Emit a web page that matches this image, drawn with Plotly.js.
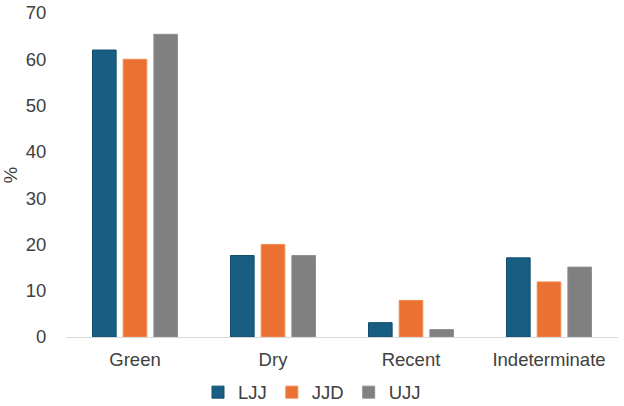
<!DOCTYPE html>
<html>
<head>
<meta charset="utf-8">
<script src="https://cdn.plot.ly/plotly-3.0.1.min.js"></script>
<style>html,body{margin:0;padding:0;background:#fff;}#chart{width:624px;height:406px;}</style>
</head>
<body>
<div id="chart"></div>
<script>
const categories = ["Green", "Dry", "Recent", "Indeterminate"];
const seriesNames = ["LJJ", "JJD", "UJJ"];
const LJJ = [62.0, 17.6, 3.1, 17.1];
const JJD = [60.0, 20.0, 7.9, 11.9];
const UJJ = [65.4, 17.6, 1.6, 15.1];
const yTicks = [0, 10, 20, 30, 40, 50, 60, 70];

const colors = ["#175E82", "#EB7132", "#808080"];
const edges = ["#124d6b", "#f08a52", "#8f8f8f"];
const values = [LJJ, JJD, UJJ];

const traces = values.map((v, i) => ({
  type: "bar",
  name: seriesNames[i],
  x: categories,
  y: v,
  marker: {color: colors[i], line: {color: edges[i], width: 1}},
  hoverinfo: "x+y+name"
}));

const font = {family: "'Liberation Sans', Arial, sans-serif", size: 18.5, color: "#404040"};

const layout = {
  width: 624,
  height: 406,
  margin: {l: 66, r: 6, t: 13, b: 69, autoexpand: false},
  paper_bgcolor: "#fff",
  plot_bgcolor: "#fff",
  font: font,
  barmode: "group",
  bargap: 0.333,
  bargroupgap: 0.23,
  showlegend: true,
  legend: {
    orientation: "h",
    x: 0.5, xanchor: "center", xref: "container",
    y: 0.033, yanchor: "middle", yref: "container",
    font: font,
    itemwidth: 30,
    tracegroupgap: 0,
    traceorder: "normal"
  },
  xaxis: {
    type: "category",
    showline: true,
    linecolor: "#d9d9d9",
    linewidth: 1,
    ticks: "outside",
    ticklen: 6,
    tickcolor: "rgba(0,0,0,0)",
    showgrid: false,
    zeroline: false,
    tickfont: font
  },
  yaxis: {
    range: [0, 70],
    tickvals: yTicks,
    ticktext: yTicks.map(String),
    showgrid: false,
    zeroline: false,
    showline: false,
    ticks: "outside",
    ticklen: 15,
    tickcolor: "rgba(0,0,0,0)",
    tickfont: font,
    title: {text: "%", font: font, standoff: 10}
  }
};

Plotly.newPlot("chart", traces, layout, {displayModeBar: false, staticPlot: true});
</script>
</body>
</html>
